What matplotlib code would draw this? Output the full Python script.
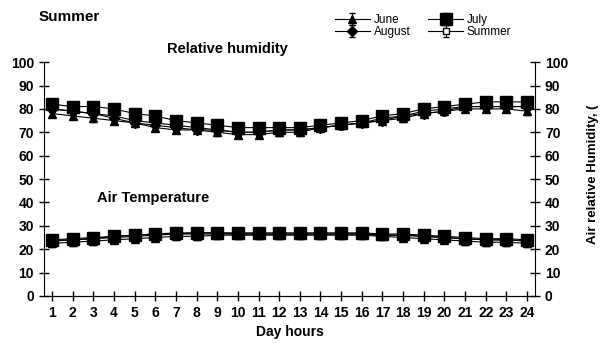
import numpy as np
import matplotlib
matplotlib.use('Agg')
import matplotlib.pyplot as plt

plt.rcParams['font.family'] = ['Liberation Sans', 'DejaVu Sans']
plt.rcParams['font.weight'] = 'bold'

hours = list(range(1, 25))

# relative humidity (%)
rh_june = [78, 77, 76, 75, 74, 72, 71, 71, 70, 69, 69, 70, 70, 72, 73, 74, 75, 76, 78, 79, 80, 80, 80, 79]
rh_july = [82, 81, 81, 80, 78, 77, 75, 74, 73, 72, 72, 72, 72, 73, 74, 75, 77, 78, 80, 81, 82, 83, 83, 83]
rh_aug = [80, 79, 78, 76, 74, 73, 72, 71, 71, 70, 70, 71, 71, 72, 73, 74, 75, 77, 78, 79, 81, 81, 81, 81]
rh_summer = [80, 79, 78, 77, 75, 74, 73, 72, 71, 70, 70, 71, 71, 72, 73, 74, 76, 77, 79, 80, 81, 81, 81, 81]

# air temperature (C)
t_june = [22.5, 23, 23.5, 24, 24.5, 25, 25.5, 25.5, 26, 26, 26, 26, 26, 26, 26, 26, 25.5, 25, 24.5, 24, 23.5, 23, 23, 22.5]
t_july = [24, 24.5, 25, 25.5, 26, 26.5, 27, 27, 27, 27, 27, 27, 27, 27, 27, 27, 26.5, 26.5, 26, 25.5, 25, 24.5, 24.5, 24]
t_aug = [23.5, 24, 24.5, 25.5, 26, 26.5, 26.5, 27, 27, 26.5, 26.5, 26.5, 26.5, 26.5, 26.5, 26.5, 26, 26, 25.5, 25, 24.5, 24, 24, 23.5]
t_summer = [23.5, 24, 24.5, 25, 25.5, 26, 26.5, 26.5, 26.5, 26.5, 26.5, 26.5, 26.5, 26.5, 26.5, 26.5, 26, 26, 25.5, 25, 24.5, 24, 24, 23.5]

err = 1.5

fig = plt.figure(figsize=(6.0, 3.47), dpi=100)
ax = fig.add_axes([0.073, 0.147, 0.819, 0.674])

# drawn back to front: July ends up on top like in the original
styles = [
    ('Summer', rh_summer, t_summer, dict(marker='s', ms=5, mfc='white')),
    ('June', rh_june, t_june, dict(marker='^', ms=6, mfc='black')),
    ('August', rh_aug, t_aug, dict(marker='D', ms=5, mfc='black')),
    ('July', rh_july, t_july, dict(marker='s', ms=8, mfc='black')),
]

handles = {}
for name, rh, t, st in styles:
    h = ax.errorbar(hours, rh, yerr=err, color='black', lw=0.8, capsize=2.5,
                    elinewidth=0.8, mec='black', label=name, **st)
    ax.errorbar(hours, t, yerr=err, color='black', lw=0.8, capsize=2.5,
                elinewidth=0.8, mec='black', **st)
    handles[name] = h

ax.set_xlim(0.6, 24.4)
ax.set_ylim(0, 100)
ax.set_xticks(hours)
ax.set_yticks(np.arange(0, 101, 10))
ax.spines['top'].set_visible(False)
ax.spines['right'].set_visible(False)
ax.tick_params(direction='inout', length=7, width=1, labelsize=10)
ax.set_xlabel('Day hours', fontsize=10, fontweight='bold')

ax2 = ax.twinx()
ax2.set_ylim(0, 100)
ax2.set_yticks(np.arange(0, 101, 10))
ax2.spines['top'].set_visible(False)
ax2.spines['left'].set_visible(False)
ax2.tick_params(direction='inout', length=7, width=1, labelsize=10)
ax2.set_ylabel('Air relative Humidity, (', fontsize=9.5, fontweight='bold')
ax2.yaxis.set_label_coords(1.106, 0.52)

fig.text(0.065, 0.94, 'Summer', fontsize=11, fontweight='bold')
ax.text(9.5, 104, 'Relative humidity', fontsize=10.5, fontweight='bold', ha='center')
ax.text(5.9, 40, 'Air Temperature', fontsize=10.5, fontweight='bold', ha='center')

order = ['June', 'August', 'July', 'Summer']
leg = fig.legend([handles[n] for n in order], order, loc='upper left',
                 bbox_to_anchor=(0.54, 0.99), ncol=2, frameon=False,
                 fontsize=8.5, handlelength=3, labelspacing=0.0,
                 columnspacing=1.5, handletextpad=0.3)
for txt in leg.get_texts():
    txt.set_fontweight('normal')

fig.savefig('out.png', dpi=100)
